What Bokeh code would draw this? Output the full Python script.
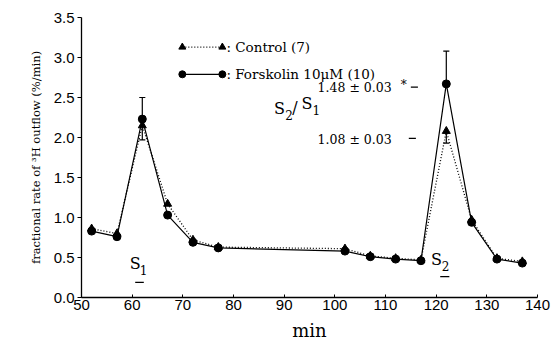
from bokeh.plotting import figure
from bokeh.models import Range1d, Label, FixedTicker, CustomJSTickFormatter
from bokeh.embed import file_html
from bokeh.resources import INLINE

# data
time = [52, 57, 62, 67, 72, 77, 102, 107, 112, 117, 122, 127, 132, 137]
control = [0.86, 0.80, 2.15, 1.17, 0.72, 0.63, 0.61, 0.52, 0.49, 0.47, 2.08, 0.97, 0.49, 0.45]
forskolin = [0.83, 0.76, 2.23, 1.03, 0.69, 0.62, 0.58, 0.51, 0.48, 0.46, 2.67, 0.94, 0.48, 0.43]
control_err = [0, 0, 0.18, 0, 0, 0, 0, 0, 0, 0, 0.15, 0, 0, 0]
forskolin_err = [0, 0, 0.27, 0, 0, 0, 0, 0, 0, 0, 0.41, 0, 0, 0]
x_ticks = [50, 60, 70, 80, 90, 100, 110, 120, 130, 140]
y_ticks = [0.0, 0.5, 1.0, 1.5, 2.0, 2.5, 3.0, 3.5]

SERIF = "DejaVu Serif"
SANS = "Liberation Sans"

p = figure(width=559, height=347, output_backend="svg", toolbar_location=None,
           x_range=Range1d(50, 140), y_range=Range1d(0, 3.5),
           min_border_left=81, min_border_right=22, min_border_top=17, min_border_bottom=50)
p.outline_line_color = None
p.grid.visible = False
p.background_fill_color = "white"

# axes
p.xaxis.ticker = FixedTicker(ticks=x_ticks)
p.yaxis.ticker = FixedTicker(ticks=y_ticks)
p.yaxis.formatter = CustomJSTickFormatter(code="return tick.toFixed(1);")
for ax in (p.xaxis[0], p.yaxis[0]):
    ax.axis_line_color = "black"
    ax.axis_line_width = 1.3
    ax.major_tick_line_color = "black"
    ax.minor_tick_line_color = None
    ax.major_label_text_font = SANS
    ax.major_label_text_font_size = "15px"
    ax.major_label_text_color = "black"
    ax.axis_label_text_color = "black"
    ax.axis_label_text_font_style = "normal"
p.yaxis.major_tick_out = 4
p.yaxis.major_tick_in = 0
p.xaxis.major_tick_out = 0
p.xaxis.major_tick_in = 3
p.xaxis.major_label_standoff = 2
p.yaxis.major_label_standoff = 3
p.yaxis.axis_label = "fractional rate of \u00b3H outflow (%/min)"
p.yaxis.axis_label_text_font = SERIF
p.yaxis.axis_label_text_font_size = "11.5px"
p.yaxis.axis_label_standoff = 8
p.xaxis.axis_label = "min"
p.xaxis.axis_label_text_font = SERIF
p.xaxis.axis_label_text_font_size = "18px"
p.xaxis.axis_label_standoff = 7

# error bars
for series, err, up in ((forskolin, forskolin_err, True), (control, control_err, False)):
    xs0, ys0, ys1 = [], [], []
    for t, v, e in zip(time, series, err):
        if e > 0:
            xs0.append(t)
            ys0.append(v)
            ys1.append(v + e if up else v - e)
    p.segment(x0=xs0, y0=ys0, x1=xs0, y1=ys1, line_color="black", line_width=1.2)
    p.segment(x0=[t - 0.6 for t in xs0], y0=ys1, x1=[t + 0.6 for t in xs0], y1=ys1,
              line_color="black", line_width=1.2)

# lines
p.line(time, control, line_color="black", line_width=1.3, line_dash="1 2")
p.line(time, forskolin, line_color="black", line_width=1.2)
p.scatter(time, control, marker="triangle", size=8, color="black")
p.scatter(time, forskolin, marker="circle", size=8, color="black")

# legend (hand drawn)
lx = [69.9, 77.8]
p.line(lx, [3.13, 3.13], line_color="black", line_width=1.3, line_dash="1 2")
p.scatter(lx, [3.13, 3.13], marker="triangle", size=7, color="black")
p.line(lx, [2.79, 2.79], line_color="black", line_width=1.2)
p.scatter(lx, [2.79, 2.79], marker="circle", size=7, color="black")
for yv, txt in ((3.13, ": Control (7)"), (2.79, ": Forskolin 10\u03bcM (10)")):
    p.add_layout(Label(x=78.6, y=yv, text=txt, text_font=SERIF, text_font_size="13.5px",
                       text_baseline="middle", text_color="black"))

def lab(x, y, t, size="16px", align="left", base="middle"):
    p.add_layout(Label(x=x, y=y, text=t, text_font=SERIF, text_font_size=size,
                       text_align=align, text_baseline=base, text_color="black"))

# S1 / S2 markers
lab(59.5, 0.42, "S")
lab(61.5, 0.35, "1", "12px")
p.segment(x0=[60.6], y0=[0.19], x1=[62.3], y1=[0.19], line_color="black", line_width=1.2)
lab(119.0, 0.47, "S")
lab(121.1, 0.40, "2", "12px")
p.segment(x0=[120.8], y0=[0.26], x1=[122.6], y1=[0.26], line_color="black", line_width=1.2)

# ratio annotation
lab(88.0, 2.36, "S")
lab(90.2, 2.28, "2", "12px")
lab(91.6, 2.37, "/")
lab(93.4, 2.43, "S")
lab(95.6, 2.34, "1", "12px")
lab(96.6, 2.62, "1.48 \u00b1 0.03", "12.5px")
lab(113.0, 2.66, "*", "12px")
p.segment(x0=[115.0], y0=[2.63], x1=[116.4], y1=[2.63], line_color="black", line_width=1.3)
lab(96.6, 1.98, "1.08 \u00b1 0.03", "12.5px")
p.segment(x0=[114.6], y0=[1.99], x1=[116.0], y1=[1.99], line_color="black", line_width=1.3)

open("out.html", "w").write(file_html(p, INLINE))
